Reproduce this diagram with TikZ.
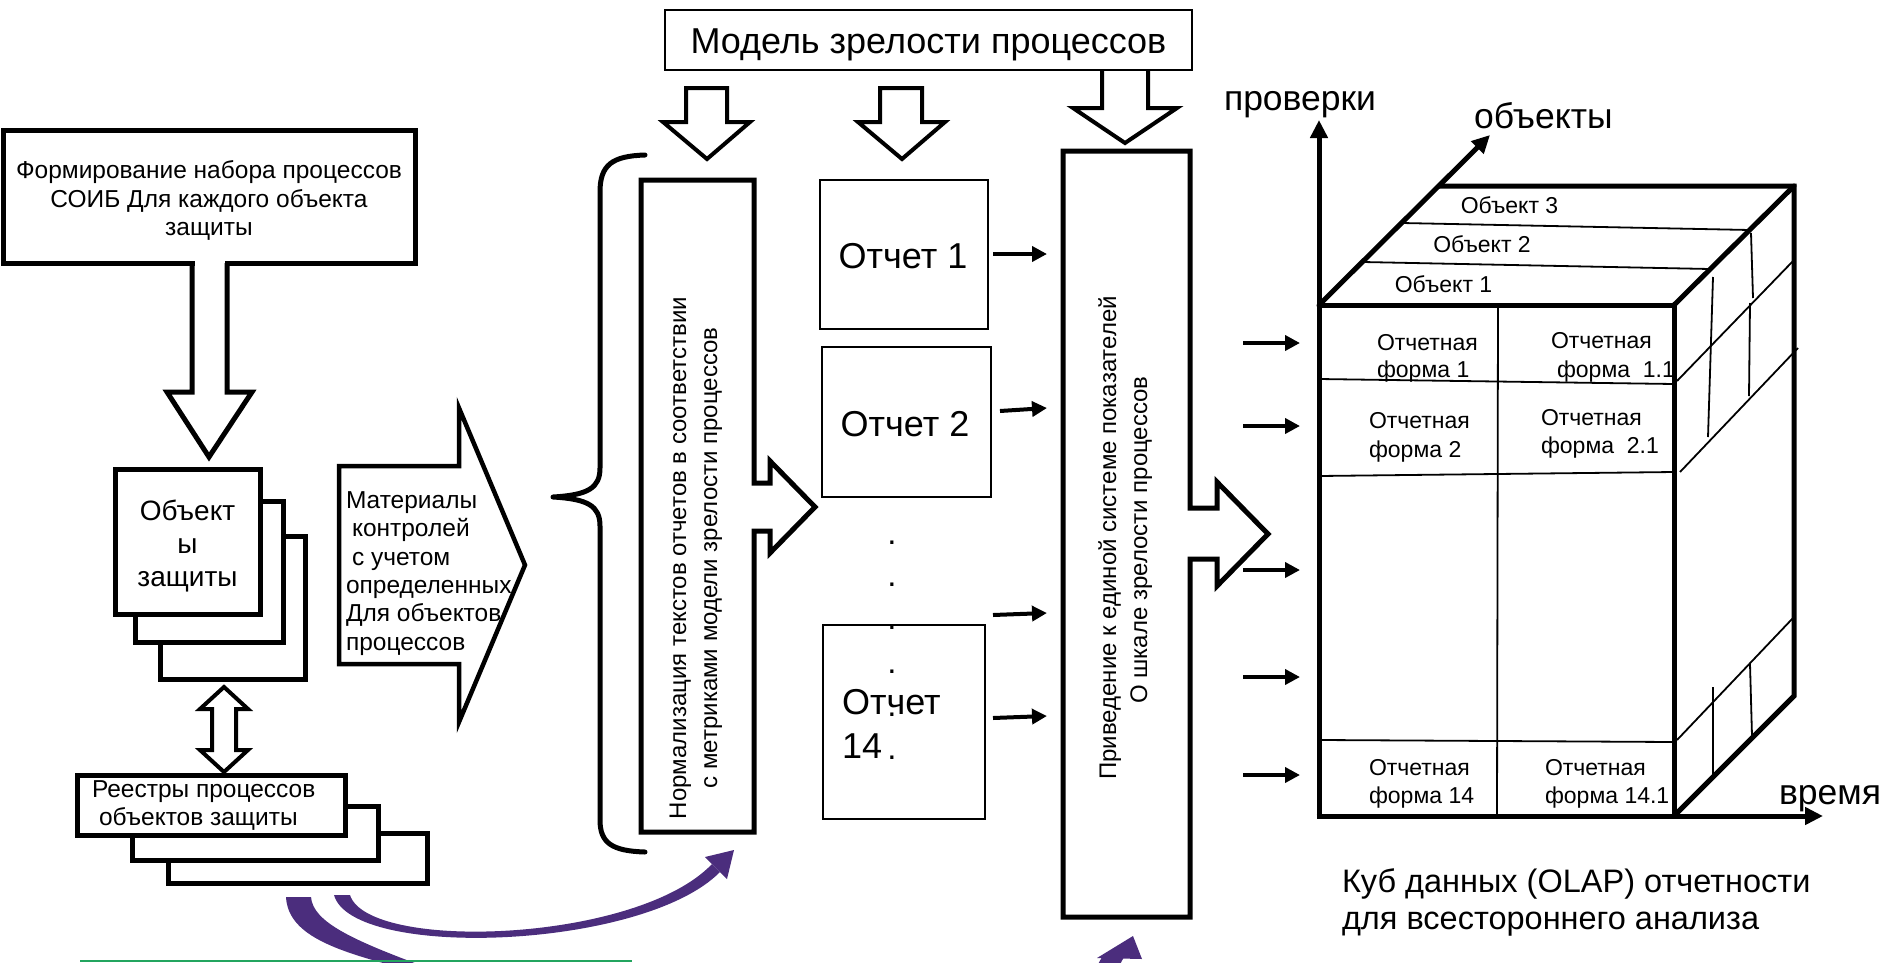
\documentclass[tikz,border=0pt]{standalone}
\usepackage{fontspec}
\setmainfont{Liberation Sans}
\usetikzlibrary{arrows.meta}
\definecolor{purp}{RGB}{75,45,125}
\definecolor{grn}{RGB}{35,165,95}
\newcommand\setfs[2]{\fontsize{#1pt}{#2pt}\selectfont}
\begin{document}
\begin{tikzpicture}[x=1pt,y=-1pt,
  thickline/.style={draw=black, line width=5pt, line join=miter},
  thickbox/.style={draw=black, line width=5pt, fill=white, inner sep=0pt, outer sep=0pt},
  thinbox/.style={draw=black, line width=2pt, fill=white, inner sep=0pt, outer sep=0pt},
  blockarrow/.style={draw=black, line width=4pt, line join=miter, fill=white},
  lbl/.style={inner sep=0pt, outer sep=0pt, anchor=base},
  lblw/.style={inner sep=0pt, outer sep=0pt, anchor=base west},
  smallarrow/.style={line width=4pt, -{Triangle[length=15pt,width=15pt]}},
  axisarrow/.style={line width=5pt, -{Triangle[length=18pt,width=17pt]}},
  cubethin/.style={line width=1.8pt},
  cubethick/.style={line width=5pt, line cap=round},
  f24/.style={font={\setfs{24}{28}}},
  f23/.style={font={\setfs{23}{27}}},
  frep/.style={font={\setfs{36}{42}}},
  fbig/.style={font={\setfs{35.5}{40}}},
]
\useasboundingbox (0,0) rectangle (1883,962);
\clip (0,0) rectangle (1883,962);

% ---------- left column ----------
\node[thickbox, minimum width=412pt, minimum height=133pt] (form) at (209,196.5) {};
\foreach \t/\yy [count=\i] in {Формирование набора процессов/178, СОИБ Для каждого объекта/207, защиты/235}
  \node[lbl, font={\setfs{24.5}{28}}] (form\i) at (209,\yy) {\t};
\fill[white] (194.5,259) rectangle (224.5,267);
\draw[thickline] (192,263) -- (192,392) -- (167,392) -- (209,457) -- (252,392) -- (227,392) -- (227,263);

\node[thickbox, minimum width=145pt, minimum height=143pt] (obj3) at (232.5,607.5) {};
\node[thickbox, minimum width=148pt, minimum height=141pt] (obj2) at (209,571.5) {};
\node[thickbox, minimum width=145pt, minimum height=145pt] (obj1) at (187.5,541.5) {};
\foreach \t/\yy [count=\i] in {Объект/520, ы/553, защиты/586}
  \node[lbl, font={\setfs{28}{33}}] (objt\i) at (187.5,\yy) {\t};

\draw[blockarrow] (224,687) -- (248,709) -- (236,709) -- (236,750) -- (248,750) -- (224,772)
  -- (200,750) -- (212,750) -- (212,709) -- (200,709) -- cycle;

\node[thickbox, minimum width=259pt, minimum height=50pt] (reg3) at (297.5,858) {};
\node[thickbox, minimum width=246pt, minimum height=54pt] (reg2) at (255,833) {};
\node[thickbox, minimum width=268pt, minimum height=60pt] (reg1) at (211,805) {};
\node[lblw, font={\setfs{24.5}{28}}] (regt1) at (92,797) {Реестры процессов};
\node[lblw, font={\setfs{24.5}{28}}] (regt2) at (99,825) {объектов защиты};

% ---------- materials arrow ----------
\draw[thickline, line width=4.5pt, fill=white] (339,466) -- (459,466) -- (459,408) -- (525,565)
  -- (459,722) -- (459,664) -- (339,664) -- cycle;
\foreach \t/\xx/\yy [count=\i] in {Материалы/346/508, контролей/352/536.5, с учетом/352/565,
    определенных/346/593, Для объектов/346/621.5, процессов/346/650}
  \node[lblw, font={\setfs{24.5}{28}}] (mat\i) at (\xx,\yy) {\t};

% ---------- model box and arrows ----------
\draw[blockarrow] (686,88) -- (727,88) -- (727,122) -- (750,122) -- (707,159) -- (663,122) -- (686,122) -- cycle;
\draw[blockarrow] (880,88) -- (922,88) -- (922,122) -- (945,122) -- (902,159) -- (858,122) -- (880,122) -- cycle;
\draw[blockarrow] (1102,66) -- (1102,108) -- (1073,108) -- (1125,143) -- (1177,108) -- (1148,108) -- (1148,66);
\node[thinbox, minimum width=527pt, minimum height=60pt] (model) at (928.5,40) {};
\node[lbl, font={\setfs{36}{40}}] (modelt) at (928.5,53) {Модель зрелости процессов};

% ---------- brace ----------
\draw[thickline, line cap=round, line join=round] (645,155) .. controls (612,156) and (600,165) .. (600,192)
  -- (600,468) .. controls (600,488) and (588,495) .. (553,497)
  .. controls (588,499) and (600,506) .. (600,526) -- (600,820)
  .. controls (600,843) and (612,851) .. (645,852);

% ---------- normalization ----------
\draw[thickline, fill=white] (641,180) -- (754,180) -- (754,483) -- (770,483) -- (770,461) -- (815,507)
  -- (770,553) -- (770,531) -- (754,531) -- (754,832) -- (641,832) -- cycle;
\node[lbl, f24, rotate=90] (norm1) at (686,558) {Нормализация текстов отчетов в соответствии};
\node[lbl, f24, rotate=90] (norm2) at (717,558) {с метриками модели зрелости процессов};

% ---------- reports ----------
\node[thinbox, minimum width=168pt, minimum height=149pt] (r1) at (904,254.5) {};
\node[thinbox, minimum width=169pt, minimum height=150pt] (r2) at (906.5,422) {};
\node[thinbox, minimum width=162pt, minimum height=194pt] (r14) at (904,722) {};
\node[lbl, frep] (r1t) at (903,268) {Отчет 1};
\node[lbl, frep] (r2t) at (905,436) {Отчет 2};
\node[lblw, frep] (r14t1) at (842,714) {Отчет};
\node[lblw, frep] (r14t2) at (842,758) {14};
\foreach \yy [count=\i] in {542,584,627,671,714,757}
  \node[lbl, font={\setfs{33}{40}}] (dot\i) at (892,{\yy+2}) {.};

% ---------- reduction box ----------
\draw[thickline, fill=white] (1063,151) -- (1190,151) -- (1190,508) -- (1217,508) -- (1217,482) -- (1268,534)
  -- (1217,586) -- (1217,559) -- (1190,559) -- (1190,917) -- (1063,917) -- cycle;
\node[lbl, f24, rotate=90] (pr1) at (1116,538) {Приведение к единой системе показателей};
\node[lbl, f24, rotate=90] (pr2) at (1147,540) {О шкале зрелости процессов};

% small arrows
\foreach \xa/\ya/\xb/\yb [count=\i] in {993/254/1047/254, 1000/411/1047/408, 993/615/1047/613, 993/718/1047/716}
{
  \coordinate (pa\i) at (\xa,\ya);
  \coordinate (pb\i) at (\xb,\yb);
  \draw[smallarrow] (pa\i) -- (pb\i);
}
\foreach \yy [count=\i] in {343,426,570,677,775}
{
  \coordinate (ca\i) at (1243,\yy);
  \coordinate (cb\i) at (1300,\yy);
  \draw[smallarrow] (ca\i) -- (cb\i);
}

% ---------- cube ----------
\begin{scope}
\clip (1319,305) rectangle (1674,816);
\foreach \t/\xx/\yy [count=\i] in {Отчетная/1377/350, форма 1/1377/377,
   Отчетная/1551/348, форма\ \ 1.1/1557/377,
   Отчетная/1369/428, форма 2/1369/457,
   Отчетная/1541/425, форма\ \ 2.1/1541/453,
   Отчетная/1369/775, форма 14/1369/803,
   Отчетная/1545/775, форма 14.1/1545/803}
  \node[lblw, f23] (cf\i) at (\xx,\yy) {\t};
\end{scope}
\node[lbl, f23] (ob3) at (1509.5,213) {Объект 3};
\node[lbl, f23] (ob2) at (1482,252) {Объект 2};
\node[lbl, f23] (ob1) at (1443.5,292) {Объект 1};

% thin grid lines
\draw[cubethin] (1498,305) -- (1497,816);
\draw[cubethin] (1319,379) -- (1674,384);
\draw[cubethin] (1319,476) -- (1674,472);
\draw[cubethin] (1321,740) -- (1674,742);
\draw[cubethin] (1402,223) -- (1750,230);
\draw[cubethin] (1363,262) -- (1710,269);
\draw[cubethin] (1677,381) -- (1794,260);
\draw[cubethin] (1680,472) -- (1798,348);
\draw[cubethin] (1677,740) -- (1793,618);
\draw[cubethin] (1713,277) -- (1708,437);
\draw[cubethin] (1751,233) -- (1753,298);
\draw[cubethin] (1750,303) -- (1749,396);
\draw[cubethin] (1713,687) -- (1713,774);
\draw[cubethin] (1750,664) -- (1752,736);

% thick edges
\draw[cubethick] (1319,305) -- (1674,305) -- (1674,816);
\draw[cubethick] (1440,186) -- (1794,186) -- (1794,696) -- (1674,816);
\draw[cubethick] (1674,305) -- (1794,186);

% axes
\coordinate (org) at (1319,816);
\coordinate (ytip) at (1319,120);
\coordinate (xtip) at (1823,816);
\coordinate (dorg) at (1319,305);
\coordinate (dtip) at (1490,135);
\draw[axisarrow] ([yshift=2.5pt]org) -- (ytip);
\draw[axisarrow] ([xshift=-2.5pt]org) -- (xtip);
\draw[axisarrow] (dorg) -- (dtip);

\node[lblw, fbig] (lblp) at (1224,110) {проверки};
\node[lblw, fbig] (lblo) at (1474,128) {объекты};
\node[lblw, fbig] (lblv) at (1779,804) {время};

\node[lblw, font={\setfs{32.5}{36}}] (cap1) at (1342,892) {Куб данных (OLAP) отчетности};
\node[lblw, font={\setfs{32.5}{36}}] (cap2) at (1342,929) {для всестороннего анализа};

% ---------- purple arrows ----------
\fill[purp] (286,897) .. controls (288,934) and (332,950) .. (402,968) -- (428,968)
  .. controls (352,940) and (313,922) .. (311,897) -- cycle;
\fill[purp] (334,895) .. controls (352,960) and (643,950) .. (720,872) -- (712,864)
  .. controls (637,943) and (368,952) .. (350,895) -- cycle;
\fill[purp] (727,879) -- (734,850) -- (705,857) -- cycle;
\fill[purp] (1097,958) -- (1133,936) -- (1142,959) -- cycle;
\fill[purp] (1102,957) -- (1124,957) -- (1118,968) -- (1096,968) -- cycle;

% ---------- green line ----------
\draw[grn, line width=2pt] (80,961) -- (632,961);
\end{tikzpicture}
\end{document}
